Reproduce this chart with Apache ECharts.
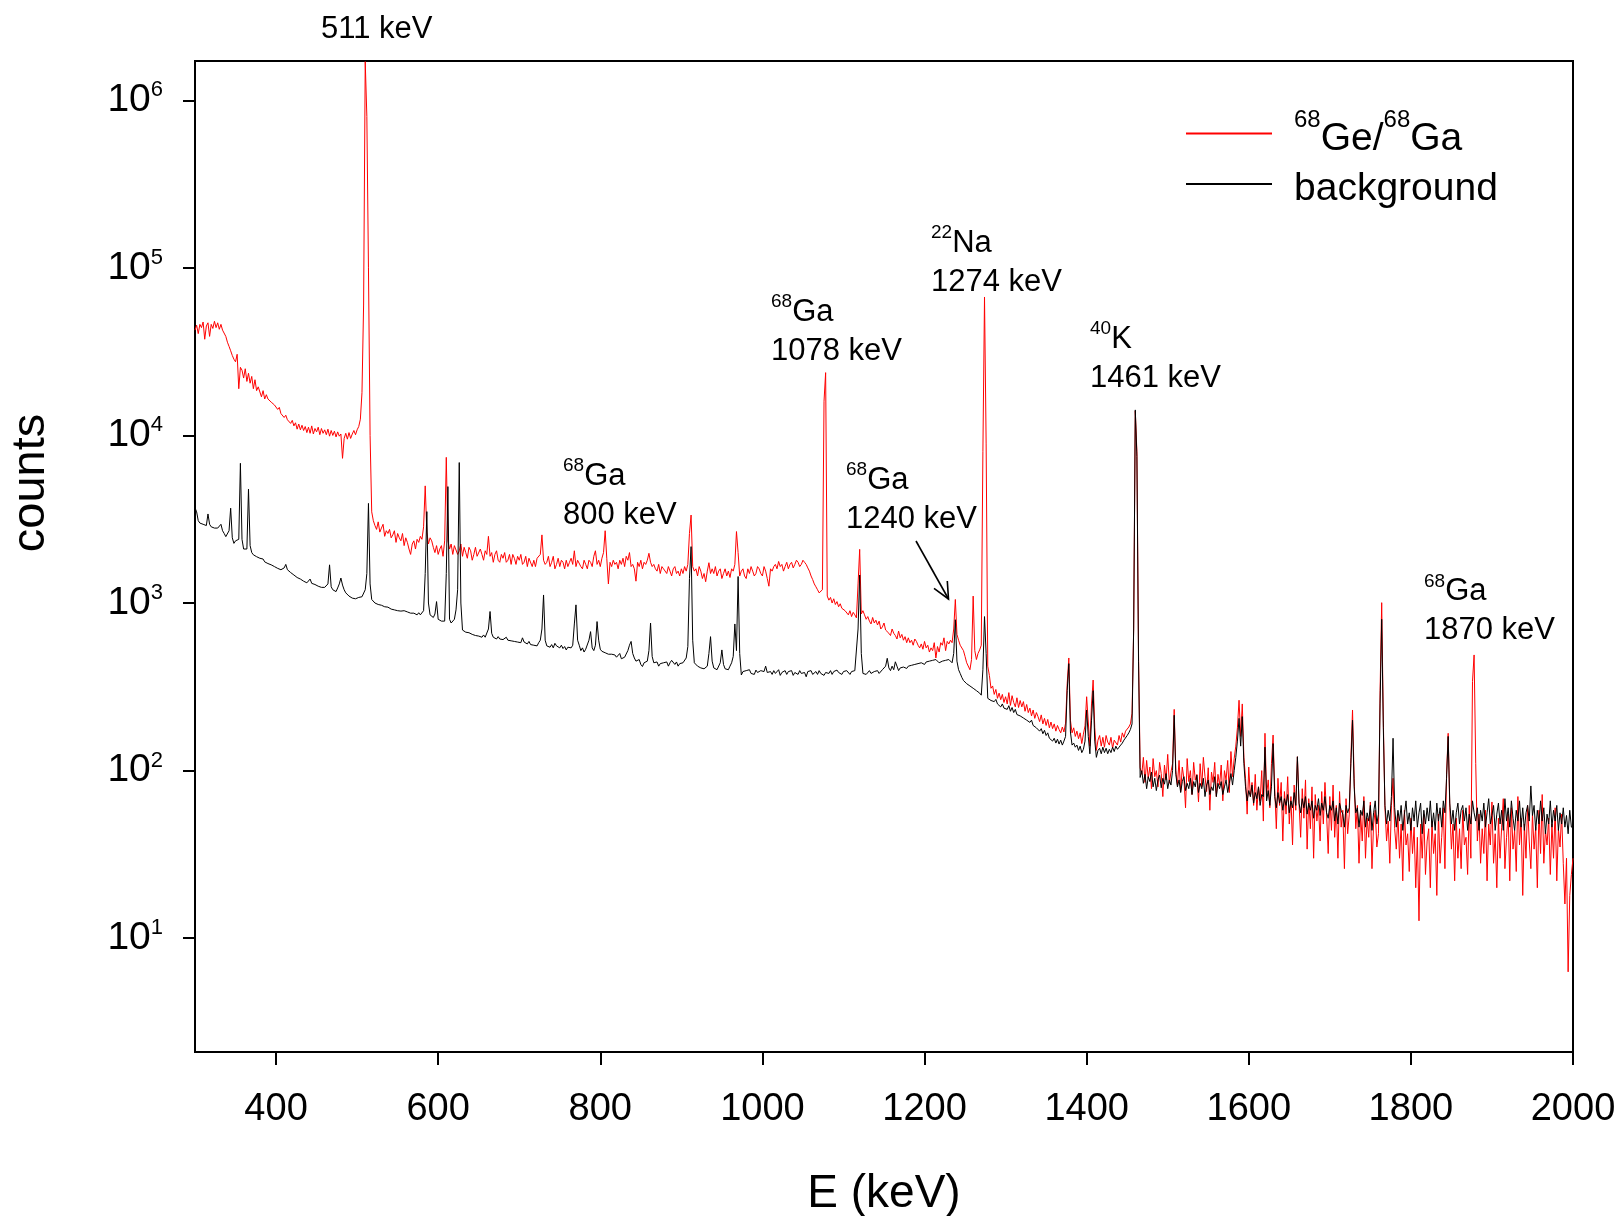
<!DOCTYPE html>
<html>
<head>
<meta charset="utf-8">
<script src="https://cdn.jsdelivr.net/npm/echarts/dist/echarts.min.js"></script>
<style>
html,body{margin:0;padding:0;background:#fff;}
#chart{width:1622px;height:1216px;}
</style>
</head>
<body>
<div id="chart"></div>
<script>
// ---------------- DATA (counts per 2 keV bin) ----------------
// Each segment starts at the energy in segmentStarts (keV).
const segmentStarts = [300, 500, 700, 900, 1100, 1300, 1500, 1700, 1900];
const binWidth = 2; // keV per bin

// Spectrum 1: 68Ge/68Ga source
const red300 = [
  42500,45500,40500,46000,44000,47500,37500,45000,47000,39000,
  46000,43500,48000,44000,47000,43000,46000,42500,42000,39000,
  36000,34000,32000,30000,28500,27500,30500,19000,25500,24500,
  22000,25000,21000,23500,20500,22500,19000,21500,18500,19500,
  20000,17000,18500,16500,17500,16500,16800,15800,16200,15200,
  15200,14300,14700,13500,13800,12800,13200,12400,12600,11800,
  12300,11400,11900,10900,11700,10800,11500,10700,11300,10400,
  11200,10300,11400,10200,11000,10500,11200,10100,11000,10300,
  10800,10100,10900,9900,10700,10000,10600,9800,10500,9900,
  10200,7300,9600,10300,9500,10400,9600,10200,10700,10100
];
const red500 = [
  10800,11300,12500,18000,60000,1700000,800000,100000,10000,3500,
  3100,2900,2750,3050,2650,2800,2950,2500,2700,2600,
  2750,2450,2550,2700,2300,2600,2450,2350,2600,2200,
  2450,2300,2100,1950,2250,2350,2100,2400,2300,2500,
  2400,2850,5000,2650,2250,2450,2350,2150,2000,2200,
  1950,2100,2200,1900,2350,7400,2350,2100,2250,1950,
  2200,2250,1950,2050,2250,1900,2150,2000,1850,2150,
  2050,1800,1950,2150,1900,1850,2100,1950,1800,2050,
  1950,2500,1900,2000,1750,1950,2050,1800,1750,1950,
  1850,2000,1750,1800,1950,1700,1950,1850,1700,1900
];
const red700 = [
  1800,1950,1700,1750,1900,1650,1850,1900,1650,1800,
  1650,1850,1800,1950,2550,1800,1700,1750,1900,1650,
  1750,1900,1600,1700,1850,1650,1800,1750,1600,1800,
  1650,1750,1850,1700,2050,1650,1800,1850,1650,1600,
  1800,1700,1600,1800,1750,1650,1900,2050,1700,1800,
  1650,1850,2000,2700,1850,1300,1750,1650,1800,1700,
  1750,1600,1800,1700,1850,1650,1900,1800,2000,1650,
  1700,1600,1350,1750,1650,1800,1600,1750,1700,1800,
  1980,1750,1650,1700,1600,1550,1700,1500,1650,1600,
  1600,1500,1650,1550,1450,1600,1650,1500,1550,1450
];
const red900 = [
  1600,1500,1650,1550,1700,2600,3350,1650,1550,1600,
  1450,1650,1550,1400,1500,1340,1550,1740,1500,1600,
  1500,1650,1450,1550,1600,1400,1500,1600,1450,1550,
  1420,1600,1550,1700,2670,2000,1450,1550,1600,1450,
  1400,1600,1500,1650,1550,1450,1500,1650,1600,1500,
  1450,1650,1550,1400,1260,1600,1550,1650,1700,1600,
  1770,1650,1700,1550,1650,1750,1600,1700,1750,1620,
  1700,1800,1750,1650,1700,1800,1750,1700,1620,1550,
  1450,1380,1300,1250,1200,1150,1150,1200,16000,23700,
  1100,1040,1080,1000,1060,980,1020,950,990,930
];
const red1100 = [
  950,900,880,850,900,830,880,850,815,1300,
  2090,860,900,850,800,830,780,750,820,760,
  790,740,780,700,720,760,690,700,660,640,
  700,660,640,610,680,620,650,600,630,580,
  620,580,600,560,610,590,560,540,570,530,
  590,540,560,510,540,520,580,470,550,510,
  580,560,620,520,590,570,600,580,700,1050,
  650,600,560,550,520,480,440,430,400,460,
  1100,520,460,500,525,560,8000,67000,9000,420,
  370,310,320,285,305,270,290,265,285,255
];
const red1300 = [
  276,250,292,245,280,255,240,272,238,262,
  240,258,226,248,222,236,212,230,205,222,
  210,196,215,190,205,186,202,180,195,178,
  190,172,186,176,168,182,170,192,330,470,
  200,168,180,160,172,155,168,145,165,185,
  276,195,140,250,347,180,132,152,162,140,
  158,138,162,148,142,158,136,152,150,142,
  162,148,168,158,172,174,182,190,220,700,
  14000,8000,500,104,95,120,85,115,90,105,
  78,118,92,100,80,112,96,70,108,88
];
const red1500 = [
  125,84,98,110,232,100,82,115,75,105,
  90,60,118,86,100,72,112,88,95,65,
  110,80,120,92,75,104,58,98,85,112,
  70,95,82,108,66,100,88,115,74,130,
  92,118,140,180,263,160,250,120,90,55,
  105,70,85,62,95,58,80,66,100,50,
  167,72,88,60,110,163,78,45,90,62,
  85,38,75,55,92,48,70,36,82,58,
  121,64,40,78,52,88,34,68,45,80,
  30,72,50,62,38,75,48,85,55,32
];
const red1700 = [
  70,44,82,40,62,30,75,46,58,26,
  68,42,55,120,230,90,45,62,28,55,
  38,70,30,52,40,65,26,48,58,35,
  42,300,1005,200,60,38,50,28,62,90,
  45,34,55,30,48,22,58,36,42,25,
  52,32,46,20,40,12.7,48,30,55,24,
  38,45,20,50,32,42,18,55,28,40,
  60,26,95,167,60,34,48,22,52,30,
  45,26,58,36,40,24,62,30,340,490,
  110,38,55,28,45,32,58,22,48,36
];
const red1900 = [
  65,28,42,20,52,30,46,68,26,40,
  55,22,60,34,44,25,70,36,52,18,
  48,30,62,38,26,55,34,46,20,58,
  32,72,28,44,36,52,24,48,30,60,
  22,45,35,55,28,16,30,6.3,18,24,
  30
];

// Spectrum 2: background
const black300 = [
  3700,3500,3100,3000,3050,2950,3000,2900,3400,2950,
  2850,2900,2800,2730,2800,2750,2950,2700,2600,2490,
  2550,2700,3680,2450,2270,2350,2300,2400,6820,2400,
  2100,2150,2100,4780,2200,2000,1940,1920,1890,1900,
  1850,1800,1830,1760,1780,1720,1740,1690,1710,1650,
  1640,1610,1620,1580,1570,1620,1700,1580,1540,1520,
  1490,1470,1460,1420,1430,1390,1390,1350,1350,1320,
  1350,1390,1310,1290,1290,1300,1260,1270,1240,1255,
  1240,1215,1300,1690,1250,1200,1190,1170,1230,1300,
  1410,1280,1200,1150,1120,1100,1075,1070,1090,1060
];
const black500 = [
  1070,1080,1060,1090,1100,1200,1500,3930,1300,1050,
  1040,1000,1015,980,1000,970,985,950,965,945,
  955,920,940,910,935,900,925,895,915,900,
  910,885,900,870,890,870,880,850,875,850,
  870,900,1500,3510,1000,850,830,820,860,1020,
  800,790,780,760,780,1500,4950,800,760,770,
  800,910,1200,6890,1000,690,680,670,675,665,
  670,650,665,640,655,635,650,625,645,625,
  640,700,890,660,625,635,610,630,610,620,
  605,620,625,600,615,595,610,590,605,585
];
const black700 = [
  600,580,620,585,590,570,590,565,580,560,
  575,555,580,600,700,1117,600,555,565,545,
  565,540,575,555,555,540,560,535,550,525,
  545,545,540,560,750,975,600,560,520,540,
  510,530,520,600,675,540,520,560,775,600,
  530,515,505,505,495,495,495,495,485,490,
  475,475,500,465,465,475,470,520,560,590,
  500,470,450,440,460,430,418,440,430,450,
  520,760,480,440,430,445,420,435,425,440,
  430,445,420,440,455,460,430,445,420,435
];
const black900 = [
  425,440,430,470,550,1400,2170,600,440,430,
  420,430,410,420,405,407,420,500,630,450,
  410,420,400,410,440,525,430,405,410,400,
  420,440,480,750,520,1440,500,372,390,380,
  395,385,400,380,390,375,398,385,380,395,
  385,390,420,385,380,390,375,395,380,390,
  400,370,385,380,395,375,390,380,395,370,
  385,390,375,395,380,370,385,363,390,380,
  395,375,385,390,375,395,380,390,370,385,
  390,380,395,375,390,380,398,385,390,375
];
const black1100 = [
  390,380,395,385,375,390,380,395,385,700,
  1470,500,380,390,375,385,395,380,375,390,
  385,395,380,390,400,390,420,468,410,395,
  420,400,446,420,395,410,400,415,405,407,
  420,410,425,415,430,420,435,425,440,435,
  430,445,435,450,440,455,445,460,450,440,
  445,450,440,455,445,460,450,440,500,795,
  450,400,380,360,345,340,330,325,320,316,
  310,305,300,295,290,282,400,830,500,270,
  276,262,268,258,266,250,254,240,250,236
];
const black1300 = [
  242,232,244,226,238,222,232,216,220,212,
  214,206,210,200,204,194,200,186,190,180,
  182,172,178,166,174,162,168,156,160,150,
  156,146,154,144,152,142,150,160,300,435,
  170,142,146,138,142,132,140,128,134,150,
  230,160,126,200,300,150,120,132,136,126,
  138,128,136,126,134,128,138,130,140,134,
  138,142,146,152,156,162,168,176,190,700,
  14200,7500,450,91,100,84,95,78,92,86,
  98,80,90,76,88,94,79,90,83,96
];
const black1500 = [
  78,88,82,100,214,95,80,88,74,86,
  92,76,84,78,90,72,86,80,94,74,
  84,78,90,70,82,88,72,80,76,92,
  70,84,78,86,72,80,88,74,84,96,
  82,100,120,150,205,140,210,110,80,66,
  76,70,82,64,74,68,80,62,72,70,
  138,66,76,62,80,145,70,60,74,64,
  70,58,68,62,72,56,66,60,74,62,
  121,64,56,68,60,70,55,64,58,66,
  52,62,58,68,54,64,58,70,56,52
];
const black1700 = [
  62,58,66,50,60,48,64,58,55,46,
  62,56,60,110,200,80,56,60,46,58,
  54,66,46,56,50,62,44,56,66,48,
  55,250,800,180,62,48,58,50,70,156,
  60,46,58,50,62,44,55,66,48,56,
  44,60,50,66,46,56,64,42,58,48,
  60,50,66,46,56,44,64,50,60,46,
  66,56,90,160,64,48,58,44,56,64,
  48,58,62,50,60,44,55,48,66,56,
  50,60,44,58,50,64,46,56,68,48
];
const black1900 = [
  54,62,44,55,64,48,58,44,68,50,
  60,46,66,52,44,58,50,66,46,60,
  44,56,62,50,81,54,62,44,58,48,
  66,50,60,42,55,48,66,46,58,50,
  62,44,56,48,60,46,54,42,58,46,
  46
];

// Axis tick positions
const xTickValues = [400, 600, 800, 1000, 1200, 1400, 1600, 1800, 2000];
const yTickExponents = [1, 2, 3, 4, 5, 6];   // 10^1 ... 10^6
const xRange = [300, 2000];
const countRange = [2.094, 1715000];          // visible counts range of the y axis

// ---------------- BUILD ----------------
const redSegments = [red300, red500, red700, red900, red1100, red1300, red1500, red1700, red1900];
const blackSegments = [black300, black500, black700, black900, black1100, black1300, black1500, black1700, black1900];

function toSeries(segments) {
  const out = [];
  segments.forEach((vals, k) => {
    vals.forEach((c, i) => {
      out.push([segmentStarts[k] + binWidth * i, Math.log10(c)]);
    });
  });
  return out;
}

const FONT = '"Liberation Sans", Arial, Helvetica, sans-serif';
const chart = echarts.init(document.getElementById('chart'), null, {renderer: 'canvas'});

const annoRich = {
  m: {fontSize: 31, lineHeight: 39, fontFamily: FONT, color: '#000'},
  s: {fontSize: 19, lineHeight: 20, verticalAlign: 'top', fontFamily: FONT, color: '#000'}
};
function annoText(x, yCenter1, txt) {
  return {
    type: 'text', x: x, y: yCenter1 - 19.5, z: 100,
    style: {text: txt, rich: annoRich, fill: '#000', align: 'left', verticalAlign: 'top', fontFamily: FONT, fontSize: 31}
  };
}

const option = {
  animation: false,
  backgroundColor: '#ffffff',
  grid: {left: 195, right: 49, top: 61, bottom: 164, show: true, borderColor: '#000', borderWidth: 2, backgroundColor: 'rgba(0,0,0,0)'},
  xAxis: {
    type: 'value', min: xRange[0], max: xRange[1],
    axisLine: {show: true, lineStyle: {color: '#000', width: 2}},
    axisTick: {show: true, inside: false, length: 13, lineStyle: {color: '#000', width: 2}, customValues: xTickValues},
    axisLabel: {customValues: xTickValues, margin: 39, fontSize: 38, color: '#000', fontFamily: FONT,
      formatter: function (v) { return String(Math.round(v)); }},
    splitLine: {show: false}
  },
  yAxis: {
    type: 'value', min: Math.log10(countRange[0]), max: Math.log10(countRange[1]),
    axisLine: {show: true, lineStyle: {color: '#000', width: 2}},
    axisTick: {show: true, inside: false, length: 12, lineStyle: {color: '#000', width: 2}, customValues: yTickExponents},
    axisLabel: {
      customValues: yTickExponents, margin: 32, color: '#000',
      formatter: function (v) { return '{m|10}{s|' + Math.round(v) + '}'; },
      rich: {
        m: {fontSize: 39, lineHeight: 42, fontFamily: FONT, color: '#000'},
        s: {fontSize: 22, lineHeight: 28, verticalAlign: 'top', fontFamily: FONT, color: '#000'}
      }
    },
    splitLine: {show: false}
  },
  legend: {
    orient: 'vertical', left: 1186, top: 108.5, padding: 0, itemWidth: 86, itemHeight: 2, itemGap: 6,
    icon: 'rect', selectedMode: false,
    data: ['68Ge/68Ga', 'background'],
    formatter: function (n) {
      return n === '68Ge/68Ga' ? '{sp| }{s|68}{m|Ge/}{s|68}{m|Ga}' : '{sp| }{m|background}';
    },
    textStyle: {
      color: '#000', fontFamily: FONT, fontSize: 39,
      rich: {
        sp: {width: 17, fontSize: 39, lineHeight: 50},
        m: {fontSize: 39, lineHeight: 44, verticalAlign: 'bottom', fontFamily: FONT, color: '#000'},
        s: {fontSize: 24, lineHeight: 38, verticalAlign: 'top', fontFamily: FONT, color: '#000'}
      }
    }
  },
  series: [
    {
      name: '68Ge/68Ga', type: 'line', data: toSeries(redSegments),
      showSymbol: false, symbol: 'none', z: 2, clip: true,
      lineStyle: {color: '#ff0000', width: 1}, itemStyle: {color: '#ff0000'}
    },
    {
      name: 'background', type: 'line', data: toSeries(blackSegments),
      showSymbol: false, symbol: 'none', z: 3, clip: true,
      lineStyle: {color: '#000000', width: 1}, itemStyle: {color: '#000000'}
    }
  ],
  graphic: [
    {type: 'text', x: 884, y: 1194, style: {text: 'E (keV)', fill: '#000', fontSize: 46, fontFamily: FONT, align: 'center', verticalAlign: 'middle'}},
    {type: 'text', x: 31, y: 483, rotation: Math.PI / 2, style: {text: 'counts', fill: '#000', fontSize: 47, fontFamily: FONT, align: 'center', verticalAlign: 'middle'}},
    {type: 'text', x: 321, y: 29, style: {text: '511 keV', fill: '#000', fontSize: 31, fontFamily: FONT, align: 'left', verticalAlign: 'middle'}},
    annoText(563, 476, '{s|68}{m|Ga}\n{m|800 keV}'),
    annoText(771, 312, '{s|68}{m|Ga}\n{m|1078 keV}'),
    annoText(846, 480, '{s|68}{m|Ga}\n{m|1240 keV}'),
    annoText(931, 243, '{s|22}{m|Na}\n{m|1274 keV}'),
    annoText(1090, 339, '{s|40}{m|K}\n{m|1461 keV}'),
    annoText(1424, 591.5, '{s|68}{m|Ga}\n{m|1870 keV}'),
    {type: 'polyline', z: 100, shape: {points: [[916, 541], [948.5, 599]]}, style: {stroke: '#000', lineWidth: 1.6, fill: null}},
    {type: 'polyline', z: 100, shape: {points: [[934, 588.4], [948.5, 599], [947.3, 581]]}, style: {stroke: '#000', lineWidth: 1.6, fill: null}}
  ]
};
chart.setOption(option);
</script>
</body>
</html>
